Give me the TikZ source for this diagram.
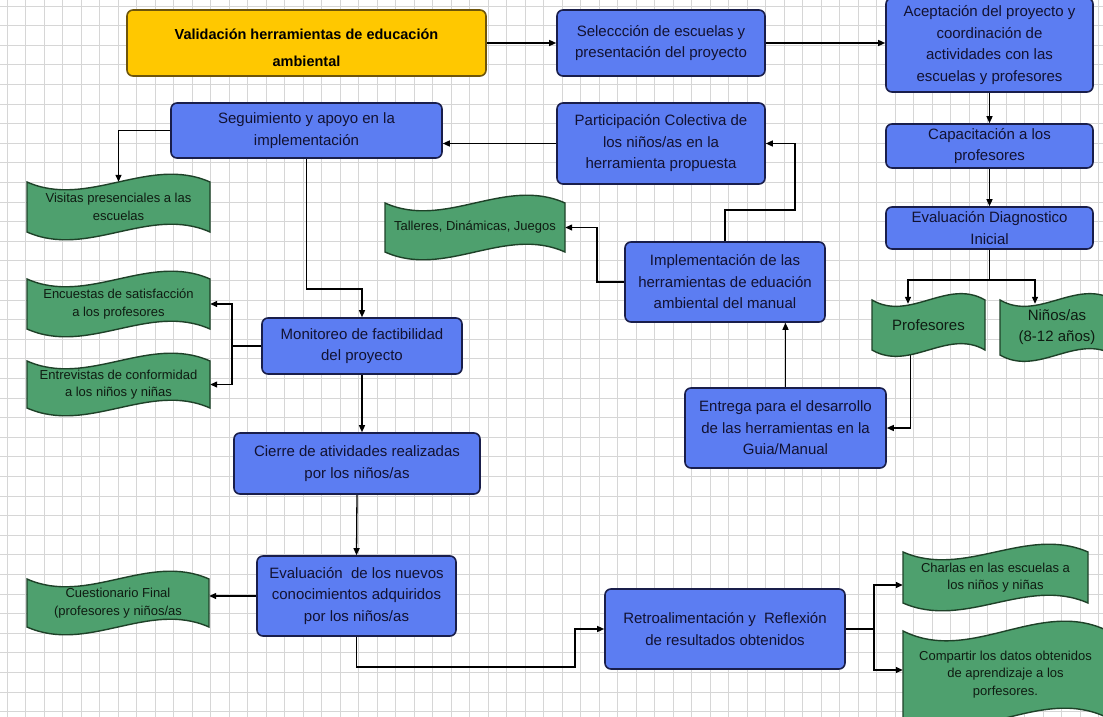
\documentclass[tikz,border=0pt]{standalone}
\usepackage{fontspec}
\setmainfont{Liberation Sans}
\usetikzlibrary{arrows.meta}
\definecolor{bfill}{RGB}{92,125,242}
\definecolor{bdraw}{RGB}{25,30,75}
\definecolor{btext}{RGB}{18,18,50}
\definecolor{yfill}{RGB}{255,200,0}
\definecolor{ydraw}{RGB}{110,85,10}
\definecolor{gfill}{RGB}{78,160,110}
\definecolor{gdraw}{RGB}{30,65,40}
\definecolor{gtext}{RGB}{15,28,18}
\definecolor{gridc}{RGB}{214,214,214}
\pgfdeclarelayer{bg}\pgfdeclarelayer{edges}\pgfsetlayers{bg,edges,main}
\newcommand\gfont{\fontsize{13}{17.5}\selectfont}
\newcommand\gbig{\fontsize{15}{21}\selectfont}
\newcommand\wavebox[8]{%
  \draw[waveshape] (#2,#3) .. controls ({#2+(#4-#2)/3},{#3+#6}) and ({#2+2*(#4-#2)/3},{#3-#6}) .. (#4,#3) -- (#4,#5) .. controls ({#2+2*(#4-#2)/3},{#5-#6}) and ({#2+(#4-#2)/3},{#5+#6}) .. (#2,#5) -- cycle;
  \node[wavetext, font=#7, minimum width={#4-#2}, minimum height={#5-#3}] (#1) at ({(#2+#4)/2},{(#3+#5)/2}) {#8};
}
\tikzset{
  bbox/.style={draw=bdraw, fill=bfill, line width=1.6pt, rounded corners=6pt, text=btext, align=center, inner sep=0pt, font=\fontsize{15}{21.5}\selectfont},
  ybox/.style={draw=ydraw, fill=yfill, line width=1.6pt, rounded corners=6pt, text=black, align=center, inner sep=0pt, font=\fontsize{14.5}{27}\selectfont\bfseries},
  waveshape/.style={draw=gdraw, fill=gfill, line width=1.4pt},
  wavetext/.style={text=gtext, align=center, inner sep=0pt},
  conn/.style={line width=1.3pt, black},
  arr/.style={conn, -{Triangle[length=7pt,width=6pt]}}
}
\begin{document}
\begin{tikzpicture}[x=1pt,y=-1pt]
\useasboundingbox (0,0) rectangle (1103,717);
\begin{pgfonlayer}{bg}
\fill[white] (0,0) rectangle (1103,717);
\foreach \i in {0,...,59} \draw[gridc, line width=0.7pt] ({7+18.5*\i},0) -- ({7+18.5*\i},717);
\foreach \j in {0,...,36} \draw[gridc, line width=0.7pt] (0,{6+19.6*\j}) -- (1103,{6+19.6*\j});
\end{pgfonlayer}

% rectangular nodes
\node[ybox, minimum width=359pt, minimum height=66pt] (valid) at (306.5,43) {\rule{0pt}{20pt}Validación herramientas de educación\\ambiental};
\node[bbox, minimum width=208pt, minimum height=66pt] (sel) at (661,43) {Seleccción de escuelas y\\presentación del proyecto};
\node[bbox, minimum width=207pt, minimum height=94pt] (acep) at (989.5,45) {Aceptación del proyecto y\\coordinación de\\actividades con las\\escuelas y profesores};
\node[bbox, minimum width=271pt, minimum height=55pt] (segu) at (306.5,130.5) {Seguimiento y apoyo en la\\implementación};
\node[bbox, minimum width=208pt, minimum height=81pt] (part) at (661,143.5) {Participación Colectiva de\\los niños/as en la\\herramienta propuesta};
\node[bbox, minimum width=207pt, minimum height=44pt] (capa) at (989.5,146) {Capacitación a los\\profesores};
\node[bbox, minimum width=207pt, minimum height=42pt] (diag) at (989.5,228) {Evaluación Diagnostico\\Inicial};
\node[bbox, minimum width=200pt, minimum height=80pt] (impl) at (725,282) {Implementación de las\\herramientas de eduación\\ambiental del manual};
\node[bbox, minimum width=200pt, minimum height=56pt] (moni) at (362,346) {Monitoreo de factibilidad\\del proyecto};
\node[bbox, minimum width=201pt, minimum height=80pt] (entr) at (785.5,428) {Entrega para el desarrollo\\de las herramientas en la\\Guia/Manual};
\node[bbox, minimum width=246pt, minimum height=61pt] (cier) at (357,463.5) {Cierre de atividades realizadas\\por los niños/as};
\node[bbox, minimum width=199pt, minimum height=80pt] (eval) at (356.5,596) {Evaluación\ \ de los nuevos\\conocimientos adquiridos\\por los niños/as};
\node[bbox, minimum width=240pt, minimum height=80pt] (retro) at (725,629) {Retroalimentación y\ \ Reflexión\\de resultados obtenidos};

% wave nodes
\wavebox{visit}{27}{182}{210}{232}{27}{\gfont}{Visitas presenciales a las\\escuelas}
\wavebox{tall}{385}{203}{565}{252}{27}{\gfont}{Talleres, Dinámicas, Juegos}
\wavebox{encu}{27}{279}{210}{329}{27}{\gfont}{Encuestas de satisfacción\\a los profesores}
\wavebox{entv}{27}{361}{210}{408}{27}{\gfont}{Entrevistas de conformidad\\a los niños y niñas}
\wavebox{prof}{872}{300}{985}{350}{22}{\gbig}{Profesores}
\wavebox{nino}{1000}{300}{1114}{355}{22}{\gbig}{Niños/as\\(8-12 años)}
\wavebox{cues}{27}{579}{209}{627}{27}{\gfont}{Cuestionario Final\\(profesores y niños/as}
\wavebox{charl}{903}{552}{1088}{603}{27}{\gfont}{Charlas en las escuelas a\\los niños y niñas}
\wavebox{comp}{903}{631}{1108}{718}{34}{\gfont}{Compartir los datos obtenidos\\de aprendizaje a los\\porfesores.}

% connectors
\begin{pgfonlayer}{edges}
\coordinate (dj) at (989.5,280);
\coordinate (c1) at (597,282);
\coordinate (c2) at (795,210);
\coordinate (c3) at (362,289);
\coordinate (c4) at (232,346);
\coordinate (c5) at (575,667);
\coordinate (c6) at (874,629);
\draw[arr] (valid.east) -- (sel.west);
\draw[arr] (sel.east) -- (sel.east -| acep.west);
\draw[arr] (acep.south) -- (capa.north);
\draw[arr] (capa.south) -- (diag.north);
\draw[conn] (diag.south) -- (dj);
\draw[arr] (dj) -| ([xshift=-20.5pt,yshift=-4pt]prof.north);
\draw[arr] (dj) -| ([xshift=-22pt,yshift=-4pt]nino.north);
\draw[arr] ([xshift=-18pt]prof.south) |- (entr.east);
\draw[arr] (entr.north) -- (entr.north |- impl.south);
\draw[arr] (impl.west) -- (c1) |- (tall.east);
\draw[arr] (impl.north) |- (c2) |- (part.east);
\draw[arr] (part.west) -- (part.west -| segu.east);
\draw[arr] (segu.west) -| (visit.north);
\draw[arr] (segu.south) |- (c3) -- (moni.north);
\draw[conn] (moni.west) -- (c4);
\draw[arr] (c4) |- (encu.east);
\draw[arr] (c4) |- (entv.east);
\draw[arr] (moni.south) -- (moni.south |- cier.north);
\draw[arr] (cier.south) -- (eval.north);
\draw[arr] (eval.west) -- (eval.west -| cues.east);
\draw[arr] (eval.south) |- (c5) |- (retro.west);
\draw[conn] (retro.east) -- (c6);
\draw[arr] (c6) |- (charl.west |- 0,585);
\draw[arr] (c6) |- (comp.west |- 0,670);
\end{pgfonlayer}
\end{tikzpicture}
\end{document}
